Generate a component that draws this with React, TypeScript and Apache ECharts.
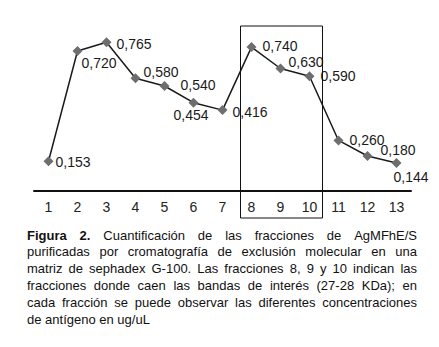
import React, { useEffect, useRef } from "react";
import * as echarts from "echarts";

const categories = ["1", "2", "3", "4", "5", "6", "7", "8", "9", "10", "11", "12", "13"];
const values = [0.153, 0.72, 0.765, 0.58, 0.54, 0.454, 0.416, 0.74, 0.63, 0.59, 0.26, 0.18, 0.144];
const highlightFrom = "8";
const highlightTo = "10";
const captionLines = [
  "Figura 2. Cuantificación de las fracciones de AgMFhE/S",
  "purificadas por cromatografía de exclusión molecular en una",
  "matriz de sephadex G-100. Las fracciones 8, 9 y 10 indican las",
  "fracciones donde caen las bandas de interés (27-28 KDa); en",
  "cada fracción se puede observar las diferentes concentraciones",
  "de antígeno en ug/uL",
];
const boldWords = 2;

// label placement (style, not data)
const labelOffsets: [number, number][] = [
  [-3, 1], [-6, 12], [0, 2], [-2, -6], [6, -1], [-30, 12], [0, 2],
  [1, -1], [-2, -7], [1, 0], [1, 0], [3, -6], [-13, 14],
];

const FONT = "Liberation Sans";

export default function App() {
  const ref = useRef<HTMLDivElement>(null);
  useEffect(() => {
    document.body.style.margin = "0";
    const chart = echarts.init(ref.current!, undefined, { renderer: "svg" });
    chart.setOption({
      animation: false,
      grid: { left: 34, right: 28, top: 16, bottom: 156 },
      xAxis: {
        type: "category",
        data: categories,
        boundaryGap: true,
        axisLine: { show: true, lineStyle: { color: "#111", width: 2 } },
        axisTick: { show: false },
        axisLabel: { color: "#222", fontSize: 14, fontFamily: FONT, margin: 9 },
        splitLine: { show: false },
      },
      yAxis: {
        type: "value",
        min: 0,
        max: 0.9,
        show: false,
        splitLine: { show: false },
      },
      series: [
        {
          type: "line",
          data: values.map((v, i) => ({
            value: v,
            label: { offset: labelOffsets[i] },
          })),
          symbol: "diamond",
          symbolSize: 10,
          itemStyle: { color: "#6e6e6e" },
          lineStyle: { color: "#1a1a1a", width: 1.5 },
          label: {
            show: true,
            position: "right",
            distance: 5,
            color: "#1a1a1a",
            fontSize: 14,
            fontFamily: FONT,
            formatter: (p: any) => Number(p.value).toFixed(3).replace(".", ","),
          },
        },
      ],
    });

    const xa = chart.convertToPixel({ xAxisIndex: 0 }, highlightFrom) as number;
    const xb = chart.convertToPixel({ xAxisIndex: 0 }, highlightTo) as number;
    const boxLeft = xa - 11;
    const boxRight = xb + 13;

    const ctx = document.createElement("canvas").getContext("2d")!;
    const measure = (t: string, bold: boolean) => {
      ctx.font = `${bold ? "bold " : ""}13px "${FONT}"`;
      return ctx.measureText(t).width;
    };
    const capLeft = 27;
    const capWidth = 390;
    const capTop = 235;
    const capStep = 16.8;
    const texts: any[] = [];
    captionLines.forEach((line, li) => {
      const words = line.split(" ");
      const bolds = words.map((_, wi) => li === 0 && wi < boldWords);
      const widths = words.map((w, wi) => measure(w, bolds[wi]));
      const sum = widths.reduce((a, b) => a + b, 0);
      const last = li === captionLines.length - 1;
      let gap = measure(" ", false);
      let scale = 1;
      if (!last) {
        gap = (capWidth - sum) / (words.length - 1);
        if (gap < 2.5) {
          gap = 2.5;
          scale = capWidth / (sum + gap * (words.length - 1));
        }
      }
      let x = 0;
      words.forEach((w, wi) => {
        texts.push({
          type: "text",
          x: capLeft + x * scale,
          y: capTop + li * capStep,
          scaleX: scale,
          style: {
            text: w,
            fontSize: 13,
            fontFamily: FONT,
            fontWeight: bolds[wi] ? "bold" : "normal",
            fill: "#111",
            align: "left",
            verticalAlign: "middle",
          },
        });
        x += widths[wi] + gap;
      });
    });

    chart.setOption({
      graphic: [
        {
          type: "rect",
          shape: { x: boxLeft, y: 26, width: boxRight - boxLeft, height: 192 },
          style: { fill: "none", stroke: "#111", lineWidth: 1 },
          z: 10,
        },
        ...texts,
      ],
    });
    return () => chart.dispose();
  }, []);
  return <div ref={ref} style={{ width: 439, height: 347 }} />;
}
